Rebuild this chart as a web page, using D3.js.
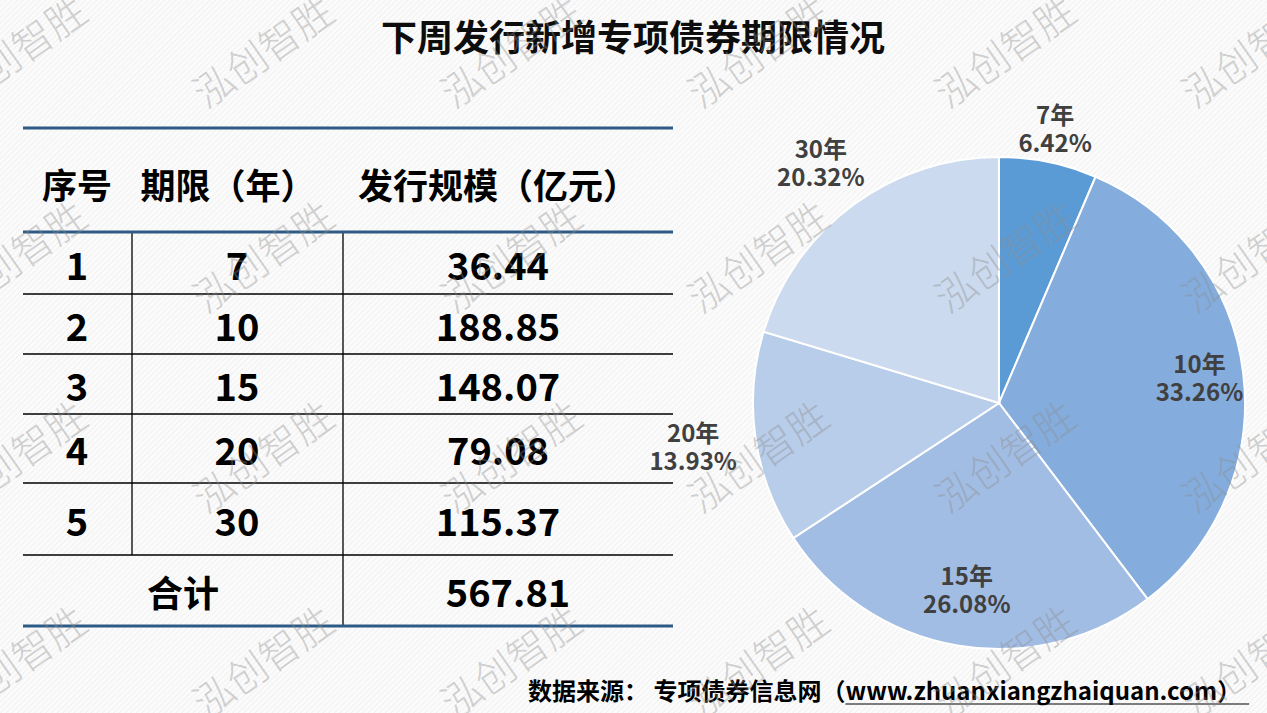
<!DOCTYPE html>
<html>
<head>
<meta charset="utf-8">
<script src="https://cdn.jsdelivr.net/npm/d3@7"></script>
<style>
  html, body { margin: 0; padding: 0; background: #fff; }
  svg { display: block; }
  text { font-family: "Noto Sans CJK SC", "Noto Sans", sans-serif; }
</style>
</head>
<body>
<svg id="chart" width="1267" height="713"></svg>
<script>
// data
var seqNo    = ["1", "2", "3", "4", "5"];
var terms    = ["7", "10", "15", "20", "30"];
var amounts  = [36.44, 188.85, 148.07, 79.08, 115.37];
var shares   = [6.42, 33.26, 26.08, 13.93, 20.32];
var sliceNames = ["7年", "10年", "15年", "20年", "30年"];
var headers  = ["序号", "期限（年）", "发行规模（亿元）"];
var totalLabel = "合计";
var totalValue = "567.81";
var titleText = "下周发行新增专项债券期限情况";
var sourcePrefix = "数据来源： 专项债券信息网（";
var sourceUrl = "www.zhuanxiangzhaiquan.com）";
var watermark = "泓创智胜";

var sliceColors = ["#5b9bd5", "#84acdc", "#a2bde3", "#b8cde9", "#cbdaee"];

var svg = d3.select("#chart");
var W = 1267, H = 713;

// hatched background
var defs = svg.append("defs");
var pat = defs.append("pattern")
    .attr("id", "hatch")
    .attr("width", 4).attr("height", 4)
    .attr("patternUnits", "userSpaceOnUse")
    .attr("patternTransform", "rotate(45)");
pat.append("rect").attr("width", 4).attr("height", 4).attr("fill", "#fbfbfb");
pat.append("line").attr("x1", 0).attr("y1", 0).attr("x2", 0).attr("y2", 4)
    .attr("stroke", "#eeeeee").attr("stroke-width", 1.5);

svg.append("rect").attr("width", W).attr("height", H).attr("fill", "url(#hatch)");

// title
svg.append("text")
    .attr("x", 633).attr("y", 35)
    .attr("text-anchor", "middle")
    .attr("dominant-baseline", "central")
    .style("font-size", "36px").style("font-weight", 700)
    .attr("fill", "#0d0d0d")
    .text(titleText);

// ---- table ----
var tx0 = 23, tx1 = 673;
var colEdges = [23, 132, 343, 673];
var rowEdges = [232, 294, 354, 414, 483, 555, 626];
var tbl = svg.append("g");

var numFont = "\"Noto Sans CJK SC\", sans-serif";

// header
var headerX = [77, 228, 498];
tbl.selectAll("text.hdr")
    .data(headers)
    .enter().append("text")
    .attr("class", "hdr")
    .attr("x", function(d, i) { return headerX[i]; })
    .attr("y", 183)
    .attr("text-anchor", "middle")
    .attr("dominant-baseline", "central")
    .style("font-size", "35px").style("font-weight", 700)
    .attr("fill", "#000")
    .text(function(d) { return d; });

// row lines (thin black)
tbl.selectAll("line.row")
    .data(rowEdges.slice(1, 6))
    .enter().append("line")
    .attr("x1", tx0).attr("x2", tx1)
    .attr("y1", function(d) { return d; }).attr("y2", function(d) { return d; })
    .attr("stroke", "#000").attr("stroke-width", 1.3);

// vertical lines
tbl.append("line").attr("x1", colEdges[1]).attr("x2", colEdges[1])
    .attr("y1", rowEdges[0]).attr("y2", rowEdges[5])
    .attr("stroke", "#000").attr("stroke-width", 1.3);
tbl.append("line").attr("x1", colEdges[2]).attr("x2", colEdges[2])
    .attr("y1", rowEdges[0]).attr("y2", rowEdges[6])
    .attr("stroke", "#000").attr("stroke-width", 1.3);

// blue rules
tbl.selectAll("line.blue")
    .data([128, rowEdges[0], rowEdges[6]])
    .enter().append("line")
    .attr("x1", tx0).attr("x2", tx1)
    .attr("y1", function(d) { return d; }).attr("y2", function(d) { return d; })
    .attr("stroke", "#2e5b86").attr("stroke-width", 3);

// body rows
var rows = seqNo.map(function(s, i) {
    return { seq: s, term: terms[i], amt: amounts[i].toFixed(2), yc: (rowEdges[i] + rowEdges[i + 1]) / 2 };
});
var rowG = tbl.selectAll("g.r").data(rows).enter().append("g");
function cell(g, x, key) {
    g.append("text")
        .attr("x", x)
        .attr("y", function(d) { return d.yc; })
        .attr("text-anchor", "middle")
        .attr("dominant-baseline", "central")
        .style("font-family", numFont)
        .style("font-size", "38px").style("font-weight", 700)
        .attr("fill", "#000")
        .text(function(d) { return d[key]; });
}
cell(rowG, 77, "seq");
cell(rowG, 237, "term");
cell(rowG, 498, "amt");

var totY = (rowEdges[5] + rowEdges[6]) / 2;
tbl.append("text").attr("x", 183).attr("y", totY)
    .attr("text-anchor", "middle").attr("dominant-baseline", "central")
    .style("font-size", "36px").style("font-weight", 700)
    .text(totalLabel);
tbl.append("text").attr("x", 508).attr("y", totY)
    .attr("text-anchor", "middle").attr("dominant-baseline", "central")
    .style("font-family", numFont)
    .style("font-size", "38px").style("font-weight", 700)
    .text(totalValue);

// ---- pie ----
var cx = 999, cy = 403, R = 246;
var labelRadius = [280, 202, 190, 309, 299];

var pie = d3.pie().sort(null).value(function(d) { return d; });
var arcs = pie(shares);
var arc = d3.arc().innerRadius(0).outerRadius(R);

var pg = svg.append("g").attr("transform", "translate(" + cx + "," + cy + ")");
pg.selectAll("path")
    .data(arcs)
    .enter().append("path")
    .attr("d", arc)
    .attr("fill", function(d, i) { return sliceColors[i]; })
    .attr("stroke", "#fff").attr("stroke-width", 2);

var lab = pg.selectAll("text.lab")
    .data(arcs)
    .enter().append("text")
    .attr("class", "lab")
    .attr("text-anchor", "middle")
    .style("font-size", "24px").style("font-weight", 700)
    .attr("fill", "#404040")
    .attr("transform", function(d, i) {
        var a = (d.startAngle + d.endAngle) / 2;
        var r = labelRadius[i];
        return "translate(" + (Math.sin(a) * r) + "," + (-Math.cos(a) * r) + ")";
    });
lab.append("tspan").attr("x", 0).attr("y", -5)
    .text(function(d, i) { return sliceNames[i]; });
lab.append("tspan").attr("x", 0).attr("y", 23)
    .text(function(d) { return d.data.toFixed(2) + "%"; });

// ---- source ----
var src = svg.append("g");
var pre = src.append("text").attr("x", 528).attr("y", 700)
    .style("font-size", "24px").style("font-weight", 700)
    .attr("fill", "#000")
    .text(sourcePrefix);
var preW = pre.node().getComputedTextLength();
var url = src.append("text").attr("x", 528 + preW).attr("y", 700)
    .style("font-size", "24px").style("font-weight", 700)
    .attr("fill", "#000")
    .text(sourceUrl);
var urlW = url.node().getComputedTextLength();
src.append("line")
    .attr("x1", 528 + preW).attr("x2", 528 + preW + urlW + 8)
    .attr("y1", 704).attr("y2", 704)
    .attr("stroke", "#000").attr("stroke-width", 1.2);

// ---- watermark grid ----
var wmX = [15, 262, 510, 757, 1004, 1251];
var wmY = [50, 255, 455, 660];
var wm = [];
wmY.forEach(function(y) { wmX.forEach(function(x) { wm.push([x, y]); }); });
svg.append("g").selectAll("text")
    .data(wm)
    .enter().append("text")
    .attr("transform", function(d) { return "translate(" + d[0] + "," + d[1] + ") rotate(-35)"; })
    .attr("text-anchor", "middle")
    .attr("dominant-baseline", "central")
    .style("font-size", "40px").style("font-weight", 300)
    .attr("fill", "#8c8c8c").attr("fill-opacity", 0.4)
    .text(watermark);
</script>
</body>
</html>
